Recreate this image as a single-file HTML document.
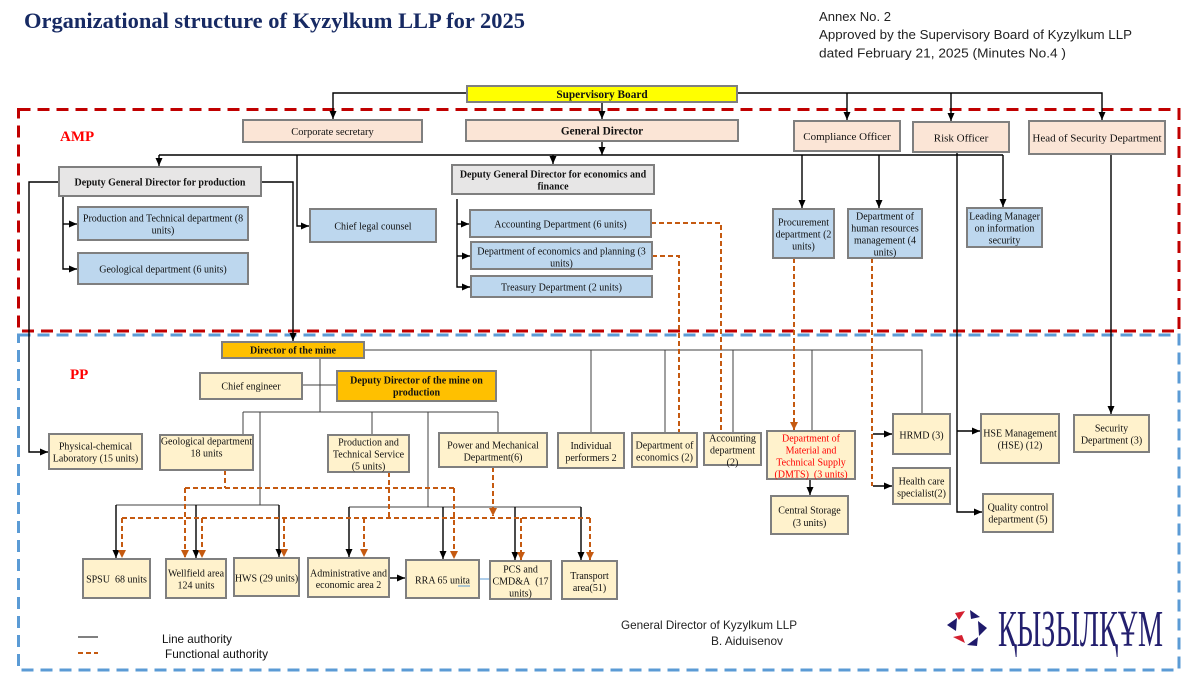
<!DOCTYPE html>
<html><head><meta charset="utf-8"><style>
html,body{margin:0;padding:0;background:#fff;}
svg{display:block}
text{font-family:"Liberation Serif","DejaVu Serif",serif;fill:#111;}
.s{font-family:"Liberation Sans","DejaVu Sans",sans-serif;}
.c{text-anchor:middle;font-size:10px;}
.b{font-weight:bold;}
rect{stroke:#7f7f7f;stroke-width:2;}
.k{stroke:#000;stroke-width:1.4;fill:none;}
.g{stroke:#404040;stroke-width:1;fill:none;}
.o{stroke:#c55a11;stroke-width:2;stroke-dasharray:5 3;fill:none;}
.pe{fill:#fbe5d6}.bl{fill:#bdd7ee}.gr{fill:#e7e6e6}.or{fill:#ffc000}.ly{fill:#fff2cc}
</style></head><body>
<svg width="1200" height="675" viewBox="0 0 1200 675" xmlns="http://www.w3.org/2000/svg">
<defs>
<marker id="ab" markerWidth="8" markerHeight="7" refX="8" refY="3.5" orient="auto" markerUnits="userSpaceOnUse"><path d="M0,0 L8,3.5 L0,7 z" fill="#000"/></marker>
<marker id="ao" markerWidth="8" markerHeight="8" refX="8" refY="4" orient="auto" markerUnits="userSpaceOnUse"><path d="M0,0 L8,4 L0,8 z" fill="#c55a11"/></marker>
</defs>

<!-- Title & annex -->
<text x="24" y="28" font-size="22.5" font-weight="bold" fill="#172a63" style="fill:#172a63" textLength="501" lengthAdjust="spacingAndGlyphs">Organizational structure of Kyzylkum LLP for 2025</text>
<text class="s" x="819" y="21" font-size="12.5" style="fill:#222" textLength="72" lengthAdjust="spacingAndGlyphs">Annex No. 2</text>
<text class="s" x="819" y="39" font-size="12.5" style="fill:#222" textLength="313" lengthAdjust="spacingAndGlyphs">Approved by the Supervisory Board of Kyzylkum LLP</text>
<text class="s" x="819" y="57.5" font-size="12.5" style="fill:#222" textLength="247" lengthAdjust="spacingAndGlyphs">dated February 21, 2025 (Minutes No.4 )</text>

<!-- Dashed region frames -->
<rect x="18.5" y="109.5" width="1160.5" height="221.5" fill="none" style="stroke:#c00000;stroke-width:3;stroke-dasharray:12 7"/>
<rect x="18.5" y="335" width="1160.5" height="335" fill="none" style="stroke:#5b9bd5;stroke-width:3;stroke-dasharray:12 7"/>
<text x="60" y="141" font-size="15" font-weight="bold" style="fill:#ff0000">AMP</text>
<text x="70" y="379" font-size="15" font-weight="bold" style="fill:#ff0000">PP</text>

<!-- Black AMP connectors -->
<path class="k" d="M467,93 H333 V119" marker-end="url(#ab)"/>
<path class="k" d="M737,93 H1102 V120" marker-end="url(#ab)"/>
<path class="k" d="M847,93 V120" marker-end="url(#ab)"/>
<path class="k" d="M951,93 V121" marker-end="url(#ab)"/>
<path class="k" d="M602,102 V119" marker-end="url(#ab)"/>
<path class="k" d="M602,141 V155" marker-end="url(#ab)"/>
<path class="k" d="M159,155 H1003"/>
<path class="k" d="M159,155 V166" marker-end="url(#ab)"/>
<path class="k" d="M297,155 V226 H309" marker-end="url(#ab)"/>
<path class="k" d="M553,155 V164" marker-end="url(#ab)"/>
<path class="k" d="M802,155 V208" marker-end="url(#ab)"/>
<path class="k" d="M879,155 V208" marker-end="url(#ab)"/>
<path class="k" d="M1003,155 V207" marker-end="url(#ab)"/>
<path class="k" d="M957,152 V512 H982" marker-end="url(#ab)"/>
<path class="k" d="M957,431 H980" marker-end="url(#ab)"/>
<path class="k" d="M1111,154 V414" marker-end="url(#ab)"/>
<path class="k" d="M59,182 H29 V452 H48" marker-end="url(#ab)"/>
<path class="k" d="M262,182 H293 V341" marker-end="url(#ab)"/>
<path class="k" d="M63,196 V269 H77" marker-end="url(#ab)"/>
<path class="k" d="M63,224 H77" marker-end="url(#ab)"/>
<path class="k" d="M457,199 V287 H470" marker-end="url(#ab)"/>
<path class="k" d="M457,224 H469" marker-end="url(#ab)"/>
<path class="k" d="M457,256 H470" marker-end="url(#ab)"/>

<!-- PP thin connectors -->
<path class="g" d="M364,350 H922 V414"/>
<path class="g" d="M591,350 V433 M665,350 V433 M733,350 V433 M812,350 V431"/>
<path class="g" d="M320,358 V412 M302,385 H337"/>
<path class="g" d="M243,412 H498 M243,412 V435 M372,412 V435 M498,412 V433 M260,412 V505 M428,412 V507"/>
<path class="g" d="M116,505 H279 M349,507 H581"/>
<path class="k" d="M116,505 V558" marker-end="url(#ab)"/>
<path class="k" d="M196,505 V558" marker-end="url(#ab)"/>
<path class="k" d="M279,505 V557" marker-end="url(#ab)"/>
<path class="k" d="M349,507 V557" marker-end="url(#ab)"/>
<path class="k" d="M443,507 V559" marker-end="url(#ab)"/>
<path class="k" d="M515,507 V560" marker-end="url(#ab)"/>
<path class="k" d="M581,507 V560" marker-end="url(#ab)"/>
<path class="k" d="M810,479 V495" marker-end="url(#ab)"/>
<path class="k" d="M873,434 H892" marker-end="url(#ab)"/>
<path class="k" d="M873,486 H892" marker-end="url(#ab)"/>
<path class="k" d="M389,578 H405" marker-end="url(#ab)"/>
<path d="M479,579 H490 M458,586 H470" style="stroke:#5b9bd5;stroke-width:1;fill:none"/>

<!-- Orange functional connectors -->
<path class="o" d="M651,223 H721 V433"/>
<path class="o" d="M652,256 H679 V433"/>
<path class="o" d="M794,258 V430" marker-end="url(#ao)"/>
<path class="o" d="M872,258 V486"/>
<path class="o" d="M225,470 V488 M185,488 H454"/>
<path class="o" d="M185,488 V558" marker-end="url(#ao)"/>
<path class="o" d="M454,488 V559" marker-end="url(#ao)"/>
<path class="o" d="M389,472 V518 M122,518 H590"/>
<path class="o" d="M122,518 V558" marker-end="url(#ao)"/>
<path class="o" d="M202,518 V558" marker-end="url(#ao)"/>
<path class="o" d="M284,518 V557" marker-end="url(#ao)"/>
<path class="o" d="M364,518 V557" marker-end="url(#ao)"/>
<path class="o" d="M521,518 V560" marker-end="url(#ao)"/>
<path class="o" d="M590,518 V560" marker-end="url(#ao)"/>
<path class="o" d="M493,467 V516" marker-end="url(#ao)"/>

<!-- Top boxes -->
<rect x="467" y="86" width="270" height="16" style="fill:#ffff00"/>
<text class="c b" x="602" y="98" font-size="11.3" style="font-size:11.3px">Supervisory Board</text>
<rect class="pe" x="243" y="120" width="179" height="22"/>
<text class="c" x="332.5" y="135" style="font-size:10.5px">Corporate secretary</text>
<rect class="pe" x="466" y="120" width="272" height="21"/>
<text class="c b" x="602" y="134.5" style="font-size:11.3px">General Director</text>
<rect class="pe" x="794" y="121" width="106" height="30"/>
<text class="c" x="847" y="140" style="font-size:11px">Compliance Officer</text>
<rect class="pe" x="913" y="122" width="96" height="30"/>
<text class="c" x="961" y="141.5" style="font-size:11px">Risk Officer</text>
<rect class="pe" x="1029" y="121" width="136" height="33"/>
<text class="c" x="1097" y="141.5" style="font-size:11px">Head of Security Department</text>

<!-- AMP boxes -->
<rect class="gr" x="59" y="167" width="202" height="29"/>
<text class="c b" x="160" y="185.5">Deputy General Director for production</text>
<rect class="gr" x="452" y="165" width="202" height="29"/>
<text class="c b" x="553" y="177.5">Deputy General Director for economics and</text>
<text class="c b" x="553" y="189.5">finance</text>

<rect class="bl" x="78" y="207" width="170" height="33"/>
<text class="c" x="163" y="221.5">Production and Technical department (8</text>
<text class="c" x="163" y="233.5">units)</text>
<rect class="bl" x="78" y="253" width="170" height="31"/>
<text class="c" x="163" y="272.5">Geological department (6 units)</text>
<rect class="bl" x="310" y="209" width="126" height="33"/>
<text class="c" x="373" y="229.5">Chief legal counsel</text>

<rect class="bl" x="470" y="210" width="181" height="27"/>
<text class="c" x="560.5" y="227.5">Accounting Department (6 units)</text>
<rect class="bl" x="471" y="242" width="181" height="27"/>
<text class="c" x="561.5" y="254.5">Department of economics and planning (3</text>
<text class="c" x="561.5" y="266.5">units)</text>
<rect class="bl" x="471" y="276" width="181" height="21"/>
<text class="c" x="561.5" y="290.5">Treasury Department (2 units)</text>

<rect class="bl" x="773" y="209" width="61" height="49"/>
<text class="c" x="803.5" y="225.5">Procurement</text>
<text class="c" x="803.5" y="237.5">department (2</text>
<text class="c" x="803.5" y="249.5">units)</text>
<rect class="bl" x="848" y="209" width="74" height="49"/>
<text class="c" x="885" y="219.5">Department of</text>
<text class="c" x="885" y="231.5">human resources</text>
<text class="c" x="885" y="243.5">management (4</text>
<text class="c" x="885" y="255.5">units)</text>
<rect class="bl" x="967" y="208" width="75" height="39"/>
<text class="c" x="1004.5" y="219.5">Leading Manager</text>
<text class="c" x="1004.5" y="231.5">on information</text>
<text class="c" x="1004.5" y="243.5">security</text>

<!-- PP boxes -->
<rect class="or" x="222" y="342" width="142" height="16"/>
<text class="c b" x="293" y="353.5">Director of the mine</text>
<rect class="ly" x="200" y="373" width="102" height="26"/>
<text class="c" x="251" y="389.5">Chief engineer</text>
<rect class="or" x="337" y="371" width="159" height="30"/>
<text class="c b" x="416.5" y="383.5">Deputy Director of the mine on</text>
<text class="c b" x="416.5" y="395.5">production</text>

<rect class="ly" x="49" y="434" width="93" height="35"/>
<text class="c" x="95.5" y="449.5">Physical-chemical</text>
<text class="c" x="95.5" y="461.5">Laboratory (15 units)</text>
<rect class="ly" x="160" y="435" width="93" height="35"/>
<text class="c" x="206.5" y="444.5">Geological department</text>
<text class="c" x="206.5" y="456.5">18 units</text>
<rect class="ly" x="328" y="435" width="81" height="37"/>
<text class="c" x="368.5" y="445.5">Production and</text>
<text class="c" x="368.5" y="457.5">Technical Service</text>
<text class="c" x="368.5" y="469.5">(5 units)</text>
<rect class="ly" x="439" y="433" width="108" height="34"/>
<text class="c" x="493" y="448.5">Power and Mechanical</text>
<text class="c" x="493" y="460.5">Department(6)</text>
<rect class="ly" x="558" y="433" width="66" height="35"/>
<text class="c" x="591" y="449">Individual</text>
<text class="c" x="591" y="461">performers 2</text>
<rect class="ly" x="632" y="433" width="65" height="34"/>
<text class="c" x="664.5" y="448.5">Department of</text>
<text class="c" x="664.5" y="460.5">economics (2)</text>
<rect class="ly" x="704" y="433" width="57" height="32"/>
<text class="c" x="732.5" y="441.5">Accounting</text>
<text class="c" x="732.5" y="453.5">department</text>
<text class="c" x="732.5" y="465.5">(2)</text>
<rect class="ly" x="767" y="431" width="88" height="48"/>
<text class="c" x="811" y="441.5" style="fill:#ff0000">Department of</text>
<text class="c" x="811" y="453.5" style="fill:#ff0000">Material and</text>
<text class="c" x="811" y="465.5" style="fill:#ff0000">Technical Supply</text>
<text class="c" x="811" y="477.5" style="fill:#ff0000">(DMTS)&#160; (3 units)</text>
<rect class="ly" x="893" y="414" width="57" height="40"/>
<text class="c" x="921.5" y="438.5">HRMD (3)</text>
<rect class="ly" x="893" y="468" width="57" height="36"/>
<text class="c" x="921.5" y="484.5">Health care</text>
<text class="c" x="921.5" y="496.5">specialist(2)</text>
<rect class="ly" x="981" y="414" width="78" height="49"/>
<text class="c" x="1020" y="436.5">HSE Management</text>
<text class="c" x="1020" y="448.5">(HSE) (12)</text>
<rect class="ly" x="1074" y="415" width="75" height="37"/>
<text class="c" x="1111.5" y="431.5">Security</text>
<text class="c" x="1111.5" y="443.5">Department (3)</text>
<rect class="ly" x="983" y="494" width="70" height="38"/>
<text class="c" x="1018" y="510.5">Quality control</text>
<text class="c" x="1018" y="522.5">department (5)</text>
<rect class="ly" x="771" y="496" width="77" height="38"/>
<text class="c" x="809.5" y="513.5">Central Storage</text>
<text class="c" x="809.5" y="526">(3 units)</text>

<!-- Bottom row -->
<rect class="ly" x="83" y="559" width="67" height="39"/>
<text class="c" x="116.5" y="582.5">SPSU&#160; 68 units</text>
<rect class="ly" x="166" y="559" width="60" height="39"/>
<text class="c" x="196" y="576.5">Wellfield area</text>
<text class="c" x="196" y="588.5">124 units</text>
<rect class="ly" x="234" y="558" width="65" height="38"/>
<text class="c" x="266.5" y="581.5">HWS (29 units)</text>
<rect class="ly" x="308" y="558" width="81" height="39"/>
<text class="c" x="348.5" y="576.5">Administrative and</text>
<text class="c" x="348.5" y="588">economic area 2</text>
<rect class="ly" x="406" y="560" width="73" height="38"/>
<text class="c" x="442.5" y="583.5">RRA 65 unita</text>
<rect class="ly" x="490" y="561" width="61" height="38"/>
<text class="c" x="520.5" y="572.5">PCS and</text>
<text class="c" x="520.5" y="584.5">CMD&amp;A&#160; (17</text>
<text class="c" x="520.5" y="596.5">units)</text>
<rect class="ly" x="562" y="561" width="55" height="38"/>
<text class="c" x="589.5" y="579">Transport</text>
<text class="c" x="589.5" y="591">area(51)</text>
<path d="M458,586 H470" style="stroke:#5b9bd5;stroke-width:1;fill:none"/>

<!-- Legend -->
<path d="M78,637 H98" style="stroke:#000;stroke-width:1;fill:none"/>
<text class="s" x="162" y="643" font-size="12" style="font-size:12px" textLength="70" lengthAdjust="spacingAndGlyphs">Line authority</text>
<path d="M78,653 H98" style="stroke:#c55a11;stroke-width:2;stroke-dasharray:5 3;fill:none"/>
<text class="s" x="165" y="658" font-size="12" style="font-size:12px" textLength="103" lengthAdjust="spacingAndGlyphs">Functional authority</text>

<!-- Signature -->
<text class="s" x="621" y="629" style="font-size:12px;fill:#222" textLength="176" lengthAdjust="spacingAndGlyphs">General Director of Kyzylkum LLP</text>
<text class="s" x="711" y="645" style="font-size:12px;fill:#222" textLength="72" lengthAdjust="spacingAndGlyphs">B. Aiduisenov</text>

<!-- Logo -->
<g>
<polygon points="955,613 965,611 959,620" fill="#d42030"/>
<polygon points="970,610 980,617 971,619" fill="#1f1a6b"/>
<polygon points="947,625 957,618 956,631" fill="#1f1a6b"/>
<polygon points="987,628 978,621 979,636" fill="#1f1a6b"/>
<polygon points="953,637 965,643 962,635" fill="#d42030"/>
<polygon points="967,645 978,637 977,646" fill="#1f1a6b"/>
</g>
<text x="998" y="646" style="font-size:52px;fill:#231f6e" textLength="165" lengthAdjust="spacingAndGlyphs">ҚЫЗЫЛҚҰМ</text>
</svg>
</body></html>
